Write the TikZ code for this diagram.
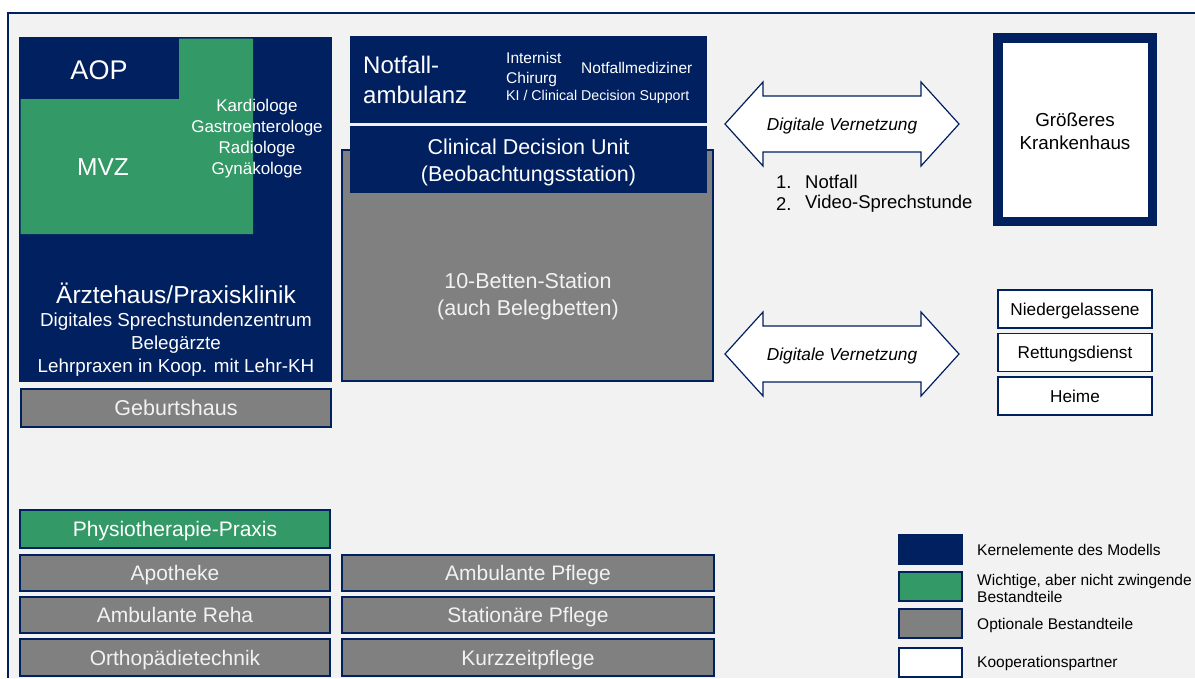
\documentclass[tikz,border=0pt]{standalone}
\usepackage{fontspec}
\setmainfont{Liberation Sans}
\usetikzlibrary{positioning}
\definecolor{navy}{HTML}{002060}
\definecolor{mvzgreen}{HTML}{339966}
\definecolor{optgray}{HTML}{808080}
\definecolor{bggray}{HTML}{F2F2F2}
\newcommand{\fsz}[2]{\fontsize{#1}{#2}\selectfont}
\tikzset{
  box/.style={rectangle,inner sep=0pt,outer sep=0pt,line width=1.2pt,align=center},
  flat/.style={text depth=0pt},
  kernbox/.style={box,fill=navy,draw=navy,text=white},
  optbox/.style={box,fill=optgray,draw=navy,text=bggray},
  wichtigbox/.style={box,fill=mvzgreen,draw=navy,text=white},
  partnerbox/.style={box,fill=white,draw=navy,text=black},
  legendtext/.style={anchor=west,inner sep=0pt,align=left,font=\fsz{15.5}{17.5}}
}

\begin{document}
\begin{tikzpicture}[x=1pt,y=-1pt]
    \useasboundingbox (0,0) rectangle (1195,678);
    \clip (0,0) rectangle (1195,678);
    \fill[white] (0,0) rectangle (1195,678);
    \fill[bggray] (8,13) rectangle (1195,678);
    \draw[navy,line width=1.2pt] (8,678) -- (8,13) -- (1195,13);

    % Aerztehaus mit MVZ und AOP
    \node[kernbox,minimum width=311,minimum height=343] (aerztehaus) at (175.5,209.5) {};
    \fill[mvzgreen] (20.6,99) -- (179,99) -- (179,38.6) -- (253,38.6) -- (253,234) -- (20.6,234) -- cycle;
    \node[text=white,font=\fsz{27}{30}] (aop) at (99,70) {AOP};
    \node[text=white,font=\fsz{24.5}{28}] (mvz) at (103,167) {MVZ};
    \node[text=white,align=center,font=\fsz{17}{21}] (fachaerzte) at (257,138.5)
        {Kardiologe\\Gastroenterologe\\Radiologe\\Gynäkologe};
    \node[text=white,font=\fsz{24.5}{28}] (praxisklinik) at (176,293) {Ärztehaus/Praxisklinik};
    \node[text=white,align=center,font=\fsz{18.8}{23}] (praxisinfo) at (176,345)
        {Digitales Sprechstundenzentrum\\Belegärzte\\Lehrpraxen in Koop. mit Lehr-KH};
    \node[optbox,flat,minimum width=310,minimum height=38,font=\fsz{21.5}{26}] (geburtshaus) at (176,408) {Geburtshaus};

    % Station und Notfall
    \node[optbox,minimum width=371,minimum height=231] (betten) at (527.5,265.5) {};
    \node[text=bggray,align=center,font=\fsz{21.5}{27}] (bettentext) at (528,296) {10-Betten-Station\\(auch Belegbetten)};
    \node[kernbox,minimum width=355,minimum height=65] (cdu) at (528.5,159.5) {};
    \node[text=white,align=center,font=\fsz{21.5}{27}] (cdutext) at (528.5,162) {Clinical Decision Unit\\(Beobachtungsstation)};
    \node[kernbox,minimum width=355,minimum height=85] (notfall) at (528.5,79.5) {};
    \node[text=white,anchor=west,align=left,inner sep=0pt,font=\fsz{24}{30}] (notfalltext) at (363,80) {Notfall-\\ambulanz};
    \node[text=white,anchor=west,align=left,inner sep=0pt,font=\fsz{15.5}{20}] (aerzte) at (506,69) {Internist\\Chirurg};
    \node[text=white,anchor=west,inner sep=0pt,font=\fsz{15.5}{20}] (notfallmed) at (581,68) {Notfallmediziner};
    \node[text=white,anchor=west,inner sep=0pt,font=\fsz{14.2}{18}] (ki) at (506,97) {KI / Clinical Decision Support};

    % Digitale Vernetzung
    \foreach \y/\nm in {124/vernetzungoben,354/vernetzungunten}{
        \draw[navy,fill=white,line width=1.2pt] (725,\y) -- (763,\y-42) -- (763,\y-28) -- (921,\y-28) -- (921,\y-42)
            -- (959,\y) -- (921,\y+42) -- (921,\y+28) -- (763,\y+28) -- (763,\y+42) -- cycle;
        \node[flat,font=\fsz{17.3}{20}\itshape] (\nm) at (842,\y) {Digitale Vernetzung};
    }
    \node[anchor=west,inner sep=0pt,font=\fsz{18.5}{22}] (nr1) at (776,182) {1.};
    \node[anchor=west,inner sep=0pt,font=\fsz{18.5}{22}] (nr2) at (776,204) {2.};
    \node[anchor=west,inner sep=0pt,font=\fsz{18.5}{22}] (notfallpunkt) at (805,182) {Notfall};
    \node[anchor=west,inner sep=0pt,font=\fsz{18.5}{22}] (videopunkt) at (805,204) {Video-Sprechstunde};

    % Kooperationspartner
    \node[partnerbox,line width=9.5pt,minimum width=154.5,minimum height=183.5] (krankenhaus) at (1075,129.5) {};
    \node[align=center,font=\fsz{18.8}{23}] (krankenhaustext) at (1075,131.5) {Größeres\\Krankenhaus};
    \node[partnerbox,flat,minimum width=154,minimum height=38,font=\fsz{17.2}{20}] (niedergelassene) at (1075,309) {Niedergelassene};
    \node[partnerbox,flat,minimum width=154,minimum height=38,font=\fsz{17.2}{20}] (rettung) at (1075,352.5) {Rettungsdienst};
    \node[partnerbox,flat,minimum width=154,minimum height=38,font=\fsz{17.2}{20}] (heime) at (1075,396) {Heime};

    % weitere Bestandteile
    \node[wichtigbox,flat,minimum width=310,minimum height=38,font=\fsz{21}{25}] (physio) at (175,529) {Physiotherapie-Praxis};
    \node[optbox,flat,minimum width=310,minimum height=36,font=\fsz{21}{25}] (apotheke) at (175,573) {Apotheke};
    \node[optbox,flat,minimum width=310,minimum height=36,font=\fsz{21}{25}] (reha) at (175,615) {Ambulante Reha};
    \node[optbox,flat,minimum width=310,minimum height=37,font=\fsz{21}{25}] (ortho) at (175,657.5) {Orthopädietechnik};
    \node[optbox,flat,minimum width=372,minimum height=36,font=\fsz{21}{25}] (ambpflege) at (528,573) {Ambulante Pflege};
    \node[optbox,flat,minimum width=372,minimum height=36,font=\fsz{21}{25}] (statpflege) at (528,615) {Stationäre Pflege};
    \node[optbox,flat,minimum width=372,minimum height=37,font=\fsz{21}{25}] (kurzzeit) at (528,657.5) {Kurzzeitpflege};

    % Legende
    \node[kernbox,minimum width=63,minimum height=29] (legkern) at (930.5,549.5) {};
    \node[wichtigbox,minimum width=63,minimum height=29] (legwichtig) at (930.5,586.5) {};
    \node[optbox,minimum width=63,minimum height=29] (legopt) at (930.5,623.5) {};
    \node[partnerbox,minimum width=63,minimum height=29] (legpartner) at (930.5,662.5) {};
    \node[legendtext] (legkerntext) at (977,550) {Kernelemente des Modells};
    \node[legendtext] (legwichtigtext) at (977,588.5) {Wichtige, aber nicht zwingende\\Bestandteile};
    \node[legendtext] (legopttext) at (977,625) {Optionale Bestandteile};
    \node[legendtext] (legpartnertext) at (977,663) {Kooperationspartner};
\end{tikzpicture}
\end{document}
